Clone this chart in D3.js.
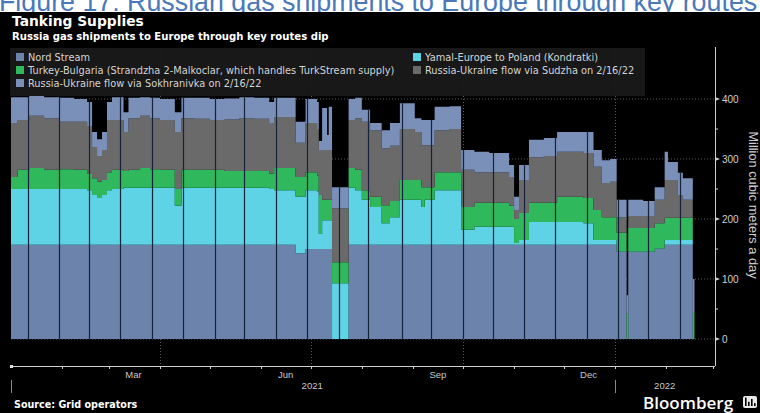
<!DOCTYPE html>
<html><head><meta charset="utf-8">
<script src="https://cdn.jsdelivr.net/npm/d3@7"></script>
<style>
html,body{margin:0;padding:0;background:#fff;}
svg{display:block;}
</style></head>
<body>
<svg id="chart" width="760" height="413"></svg>
<script>
// ---------------- DATA ----------------
const dates = ["2021-01-01","2021-01-05","2021-01-12","2021-01-21","2021-01-30","2021-02-08","2021-02-16","2021-02-19","2021-02-22","2021-02-25","2021-02-28","2021-03-03","2021-03-10","2021-03-13","2021-03-20","2021-03-26","2021-04-01","2021-04-07","2021-04-10","2021-04-14","2021-04-22","2021-05-01","2021-05-10","2021-05-19","2021-05-28","2021-06-06","2021-06-09","2021-06-18","2021-06-22","2021-06-28","2021-07-05","2021-07-06","2021-07-08","2021-07-11","2021-07-12","2021-07-14","2021-07-24","2021-07-28","2021-08-01","2021-08-06","2021-08-13","2021-08-18","2021-08-24","2021-09-02","2021-09-06","2021-09-08","2021-09-14","2021-09-23","2021-09-30","2021-10-08","2021-10-17","2021-10-29","2021-11-01","2021-11-04","2021-11-10","2021-11-19","2021-11-27","2021-12-07","2021-12-13","2021-12-19","2021-12-24","2021-12-29","2022-01-02","2022-01-08","2022-01-09","2022-01-18","2022-01-25","2022-01-31","2022-02-02","2022-02-08","2022-02-11","2022-02-17","2022-02-18"];
const nordStream  = [157,157,157,157,157,157,157,157,157,157,157,157,157,157,157,157,157,157,157,157,157,157,157,157,157,157,157,157,143,150,150,150,150,150,150,0,157,157,157,157,157,157,157,157,157,157,157,157,157,157,157,157,157,157,157,157,157,157,157,157,157,157,145,0,145,145,150,157,157,157,157,0,0];
const yamal       = [93,93,93,93,93,93,91,83,78,83,91,93,95,95,95,95,95,95,65,95,95,95,95,95,95,93,91,91,94,98,95,25,48,48,48,93,95,91,75,63,36,46,75,75,63,75,91,91,25,30,30,30,3,8,38,38,38,38,36,8,8,8,1,0,1,1,1,8,8,8,8,0,0];
const turkey      = [20,32,35,32,33,32,27,28,27,25,30,32,28,30,33,31,30,30,28,30,30,30,28,28,28,26,37,37,33,30,27,65,34,34,34,35,33,34,16,17,30,27,33,33,33,21,30,30,38,40,40,35,40,45,32,32,42,42,42,50,38,38,31,42,39,39,42,37,37,37,37,45,45];
const sudzha      = [90,83,87,86,79,80,80,52,43,50,87,83,65,86,87,85,83,83,95,86,85,83,86,88,87,84,85,85,57,82,78,75,83,83,83,90,80,86,114,111,95,92,85,80,70,70,70,72,62,51,51,48,15,55,76,78,75,75,75,72,57,59,26,0,20,20,39,63,63,38,30,0,0];
const sokhranivka = [43,38,33,35,40,38,40,25,28,30,30,38,33,34,31,34,35,35,33,34,35,35,35,35,35,35,32,32,35,40,45,15,70,25,72,35,35,34,20,12,30,38,43,23,42,42,39,38,33,34,32,20,22,25,29,30,33,33,35,28,38,38,29,31,27,25,21,47,30,37,36,55,55];
// dates of the thin dark data gaps visible in the areas
const gapDates = ["2021-01-11","2021-01-30","2021-02-17","2021-03-08","2021-03-27","2021-04-15","2021-05-04","2021-05-22","2021-06-10","2021-06-29","2021-07-18","2021-08-05","2021-08-25","2021-09-12","2021-10-01","2021-10-19","2021-11-07","2021-11-26","2021-12-15","2022-01-03","2022-01-21","2022-02-09"];
const seriesKeys   = ["nordStream","yamal","turkey","sudzha","sokhranivka"];
const seriesNames  = ["Nord Stream","Yamal-Europe to Poland (Kondratki)","Turkey-Bulgaria (Strandzha 2-Malkoclar, which handles TurkStream supply)","Russia-Ukraine flow via Sudzha on 2/16/22","Russia-Ukraine flow via Sokhranivka on 2/16/22"];
const seriesColors = ["#6c84ac","#5ed3e6","#2fb85c","#6a6a6a","#7a90b9"];
const yTicks = [0,100,200,300,400];
const yMinorTicks = [50,150,250,350];
const monthLabels = [["2021-03-16","Mar"],["2021-06-16","Jun"],["2021-09-16","Sep"],["2021-12-16","Dec"]];
const yearLabels = [["2021-07-02","2021"],["2022-01-31","2022"]];

// ---------------- BUILD ----------------
const parse = d3.utcParse("%Y-%m-%d");
const rows = dates.map((d,i)=>({date:parse(d), nordStream:nordStream[i], yamal:yamal[i], turkey:turkey[i], sudzha:sudzha[i], sokhranivka:sokhranivka[i]}));
const stacked = d3.stack().keys(seriesKeys)(rows);

const svg = d3.select("#chart");
const W=760,H=413;
const plot = {left:11,right:715,top:48,bottom:366};

svg.append("rect").attr("width",W).attr("height",H).attr("fill","#fff");
// figure caption (clipped at top and by the chart image)
svg.append("defs").append("clipPath").attr("id","capclip").append("rect").attr("x",0).attr("y",0).attr("width",W).attr("height",12);
svg.append("g").attr("clip-path","url(#capclip)").append("text").attr("x",-1).attr("y",11).attr("fill","#4a78bb")
  .attr("font-family","Liberation Sans, Arial, sans-serif").attr("font-size",26.8)
  .text("Figure 17: Russian gas shipments to Europe through key routes");
svg.append("rect").attr("y",12).attr("width",W).attr("height",H-12).attr("fill","#000");

const x = d3.scaleUtc().domain([parse("2021-01-01"), new Date(Date.UTC(2022,2,2,10))]).range([plot.left,plot.right]);
const y = d3.scaleLinear().domain([0,100]).range([339,279]);

// grid
const g = svg.append("g");
g.selectAll(".hg").data(yTicks).join("line")
  .attr("x1",plot.left).attr("x2",plot.right).attr("y1",d=>y(d)).attr("y2",d=>y(d))
  .attr("stroke","#5a5a5a").attr("stroke-width",1).attr("stroke-dasharray","1,2");
const quarters = d3.utcMonth.every(3).range(parse("2021-02-01"), parse("2022-03-01"));
g.selectAll(".vg").data(quarters).join("line")
  .attr("x1",d=>Math.round(x(d))+0.5).attr("x2",d=>Math.round(x(d))+0.5).attr("y1",plot.top).attr("y2",plot.bottom)
  .attr("stroke","#5a5a5a").attr("stroke-width",1).attr("stroke-dasharray","1,2");

// areas
const area = d3.area().curve(d3.curveStepAfter)
  .x(d=>x(d.data.date)).y0(d=>y(d[0])).y1(d=>y(d[1]));
svg.append("g").selectAll("path").data(stacked).join("path")
  .attr("d",area).attr("fill",(d,i)=>seriesColors[i]);

// gap lines
const bis = d3.bisector(d=>d.date).right;
const totalAt = dt => { const i = Math.max(0,bis(rows,dt)-1); const r=rows[i]; return seriesKeys.reduce((s,k)=>s+r[k],0); };
svg.append("g").selectAll("line").data(gapDates.map(parse)).join("line")
  .attr("x1",d=>Math.round(x(d))+0.5).attr("x2",d=>Math.round(x(d))+0.5)
  .attr("y1",y(0)).attr("y2",d=>y(totalAt(d)))
  .attr("stroke","#17233a").attr("stroke-width",1.2);

// legend box
const lg = svg.append("g");
lg.append("rect").attr("x",10).attr("y",48).attr("width",635).attr("height",48).attr("fill","#1a1a1a").attr("opacity",0.92);
const legPos = [[16,61],[413,61],[16,74],[413,74],[16,87]];
[0,1,2,3,4].forEach((si,j)=>{
  const [lx,ly]=legPos[j];
  lg.append("rect").attr("x",lx).attr("y",ly-8).attr("width",8).attr("height",8).attr("fill",seriesColors[si]);
  lg.append("text").attr("x",lx+12).attr("y",ly).attr("fill","#d4d4d4")
    .attr("font-family","DejaVu Sans, Verdana, sans-serif").attr("font-size",9.8).text(seriesNames[si]);
});

// right axis
const ya = svg.append("g");
ya.append("line").attr("x1",plot.right+0.5).attr("x2",plot.right+0.5).attr("y1",47).attr("y2",plot.bottom).attr("stroke","#d0d0d0");
ya.selectAll(".mt").data(yTicks).join("path")
  .attr("d",d=>`M${plot.right},${y(d)-2}L${plot.right+5},${y(d)}L${plot.right},${y(d)+2}Z`).attr("fill","#d0d0d0");
ya.selectAll(".mn").data(yMinorTicks).join("line")
  .attr("x1",plot.right).attr("x2",plot.right+3).attr("y1",d=>y(d)).attr("y2",d=>y(d)).attr("stroke","#d0d0d0");
ya.selectAll(".tl").data(yTicks).join("text")
  .attr("x",plot.right+7).attr("y",d=>y(d)+3.5).attr("fill","#d0d0d0")
  .attr("font-family","Liberation Sans, Arial, sans-serif").attr("font-size",10).text(d=>d);
svg.append("text").attr("transform","translate(749,205) rotate(90)").attr("text-anchor","middle")
  .attr("fill","#d0d0d0").attr("font-family","Liberation Sans, Arial, sans-serif").attr("font-size",12.8)
  .text("Million cubic meters a day");

// x axis
const xa = svg.append("g");
xa.append("line").attr("x1",plot.left).attr("x2",plot.right).attr("y1",plot.bottom+0.5).attr("y2",plot.bottom+0.5).attr("stroke","#d0d0d0");
const months = d3.utcMonth.range(parse("2021-02-01"), parse("2022-03-05"));
xa.selectAll(".mtk").data(months).join("line")
  .attr("x1",d=>Math.round(x(d))+0.5).attr("x2",d=>Math.round(x(d))+0.5)
  .attr("y1",plot.bottom).attr("y2",plot.bottom+3).attr("stroke","#d0d0d0");
xa.append("rect").attr("x",plot.left-1).attr("y",plot.bottom-1).attr("width",3).attr("height",3).attr("fill","#e0e0e0");
xa.selectAll(".ml").data(monthLabels).join("text")
  .attr("x",d=>x(parse(d[0]))).attr("y",plot.bottom+12).attr("text-anchor","middle")
  .attr("fill","#c8c8c8").attr("font-family","Liberation Sans, Arial, sans-serif").attr("font-size",9.5).text(d=>d[1]);
xa.selectAll(".yl").data(yearLabels).join("text")
  .attr("x",d=>x(parse(d[0]))).attr("y",plot.bottom+23).attr("text-anchor","middle")
  .attr("fill","#c8c8c8").attr("font-family","Liberation Sans, Arial, sans-serif").attr("font-size",9.5).text(d=>d[1]);
[parse("2021-01-01"),parse("2022-01-01")].forEach(d=>{
  xa.append("line").attr("x1",Math.round(x(d))+0.5).attr("x2",Math.round(x(d))+0.5)
    .attr("y1",plot.bottom+14).attr("y2",plot.bottom+27).attr("stroke","#8a8a8a");
});

// titles
svg.append("text").attr("x",12).attr("y",26).attr("fill","#fff")
  .attr("font-family","DejaVu Sans, Verdana, sans-serif").attr("font-weight","bold").attr("font-size",13.8)
  .text("Tanking Supplies");
svg.append("text").attr("x",12).attr("y",39.5).attr("fill","#fff")
  .attr("font-family","DejaVu Sans, Verdana, sans-serif").attr("font-weight","bold").attr("font-size",10.1)
  .text("Russia gas shipments to Europe through key routes dip");
svg.append("text").attr("x",14).attr("y",408).attr("fill","#fff")
  .attr("font-family","DejaVu Sans, Verdana, sans-serif").attr("font-weight","bold").attr("font-size",9.6)
  .text("Source: Grid operators");
svg.append("text").attr("x",643).attr("y",409).attr("fill","#fff")
  .attr("font-family","Open Sans, sans-serif").attr("font-weight",600).attr("font-size",17)
  .text("Bloomberg");
// logo mark
const lgx=743, lgy=396;
svg.append("rect").attr("x",lgx).attr("y",lgy).attr("width",14).attr("height",12).attr("rx",2).attr("fill","#e8e8e8");
[[2,6],[5,3],[8,5],[11,2]].forEach(([dx,h])=>{
  svg.append("rect").attr("x",lgx+dx).attr("y",lgy+10-h*1.4).attr("width",1.6).attr("height",h*1.4).attr("fill","#000");
});
</script>
</body></html>
